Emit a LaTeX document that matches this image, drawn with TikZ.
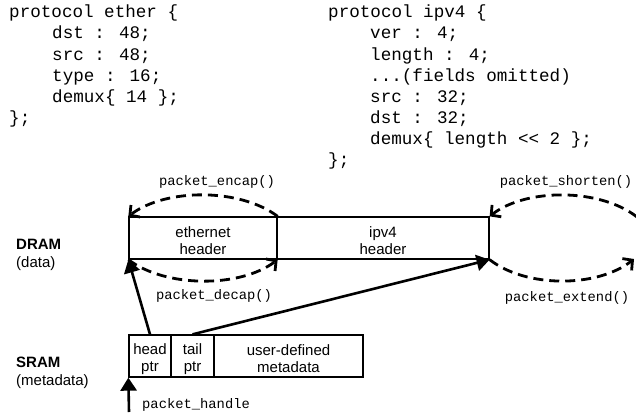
\documentclass[tikz,border=0pt]{standalone}
\usepackage{fontspec}
\setmainfont{Liberation Sans}
\newfontfamily\codefont{Liberation Mono}
\usetikzlibrary{arrows.meta}
\begin{document}
\begin{tikzpicture}[x=1pt,y=-1pt,
  code/.style={font=\codefont\fontsize{17.6}{21}\selectfont, anchor=base west, inner sep=0pt},
  lbl/.style={font=\codefont\fontsize{13.8}{16}\selectfont, inner sep=0pt},
  box/.style={draw, line width=1.3pt, minimum height=42pt, inner sep=0pt},
  boxtext/.style={inner sep=0pt, align=center, font=\fontsize{15}{17}\selectfont, yshift=-3pt},
  side/.style={anchor=base west, inner sep=0pt, font=\fontsize{15}{17}\selectfont},
  ptr/.style={line width=2.6pt, -{Triangle[length=13pt,width=16pt]}},
  dasharc/.style={line width=2.8pt, dash pattern=on 10pt off 6pt, -{Straight Barb[length=7pt,width=15pt]}}]
\useasboundingbox (0,0) rectangle (636,412);
\clip (0,0) rectangle (636,412);
% ether code
\node[code] (e1) at (9,18) {protocol ether \{};
\node[code] (e2) at (52,39) {dst : 48;};
\node[code] (e3) at (52,60) {src : 48;};
\node[code] (e4) at (52,81) {type : 16;};
\node[code] (e5) at (52,102) {demux\{ 14 \};};
\node[code] (e6) at (9,123) {\};};
% ipv4 code
\node[code] (i1) at (328,18) {protocol ipv4 \{};
\node[code] (i2) at (370,39) {ver : 4;};
\node[code] (i3) at (370,60) {length : 4;};
\node[code] (i4) at (370,81) {...(fields omitted)};
\node[code] (i5) at (370,102) {src : 32;};
\node[code] (i6) at (370,123) {dst : 32;};
\node[code] (i7) at (370,144) {demux\{ length << 2 \};};
\node[code] (i8) at (328,165) {\};};
% side labels
\node[side] (dram) at (16,249) {\textbf{DRAM}};
\node[side] (data) at (16,267) {(data)};
\node[side] (sram) at (16,367) {\textbf{SRAM}};
\node[side] (meta) at (16,385) {(metadata)};
% DRAM boxes
\node[box, minimum width=148pt] (eth) at (203,238) {};
\node[box, minimum width=212pt] (ip) at (383,238) {};
\node[boxtext] (etht) at (eth.center) {ethernet\\header};
\node[boxtext] (ipt) at (ip.center) {ipv4\\header};
% SRAM boxes
\node[box, minimum width=42pt] (head) at (150,356) {};
\node[box, minimum width=43pt] (tail) at (192.5,356) {};
\node[box, minimum width=149pt] (udm) at (288.5,356) {};
\node[boxtext] (headt) at (head.center) {head\\ptr};
\node[boxtext] (tailt) at (tail.center) {tail\\ptr};
\node[boxtext] (udmt) at (udm.center) {user-defined\\metadata};
% dashed arcs
\draw[dasharc] (eth.north east) .. controls (240,188) and (166,188) .. (eth.north west);
\draw[dasharc] (eth.south west) .. controls (166,288) and (240,288) .. (eth.south east);
\coordinate (rt) at (637,217);
\coordinate (rb) at (634,259);
\draw[dasharc] (rt) .. controls (600,188) and (526,188) .. (ip.north east);
\draw[dasharc] (ip.south east) .. controls (526,288) and (597,288) .. (rb);
% arc labels
\node[lbl] (encap) at (217,182) {packet\_encap()};
\node[lbl] (decap) at (214,296) {packet\_decap()};
\node[lbl] (shorten) at (566,182) {packet\_shorten()};
\node[lbl] (extend) at (567,298) {packet\_extend()};
% pointers
\draw[ptr] (head.north) -- (eth.south west);
\draw[ptr] (tail.north) -- (ip.south east);
\coordinate (hs) at (129,412);
\draw[ptr] (hs) -- (head.south west);
\node[lbl, anchor=west] (handle) at (142,405) {packet\_handle};
\end{tikzpicture}
\end{document}
